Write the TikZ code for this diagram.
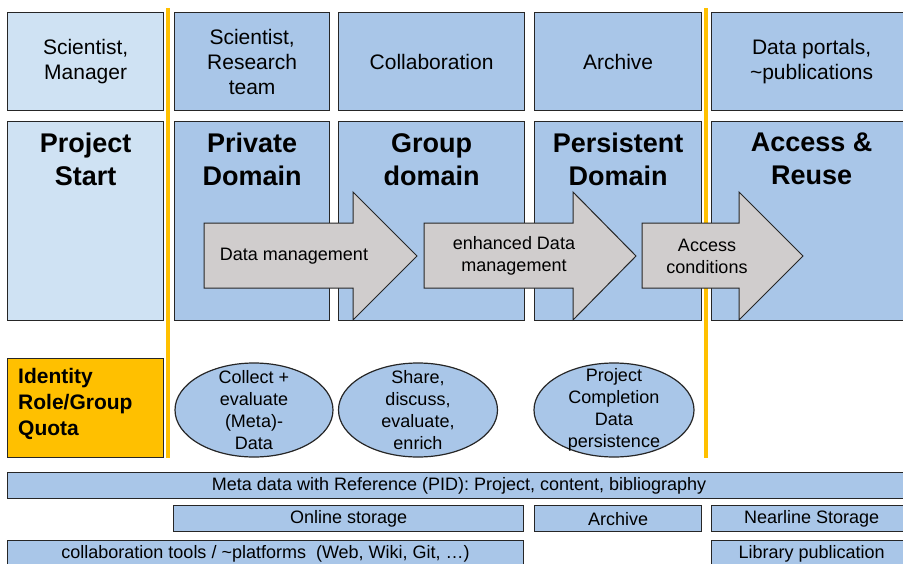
\documentclass[tikz,border=0pt]{standalone}
\usepackage{fontspec}
\setmainfont{Liberation Sans}
\usetikzlibrary{positioning,shapes.geometric}

\definecolor{paleblue}{RGB}{207,226,243}
\definecolor{domblue}{RGB}{169,198,232}
\definecolor{flowgray}{RGB}{208,205,205}
\definecolor{idgold}{RGB}{255,192,0}

% grey block arrow: tail x, neck x, tip x
\newcommand\flowarrow[3]{%
  \draw[flow] (#1,223) -- (#2,223) -- (#2,192) -- (#3,256)
    -- (#2,320) -- (#2,288) -- (#1,288) -- cycle;}

\begin{document}
\begin{tikzpicture}[x=1pt,y=-1pt,
    box/.style={draw=black!85,line width=1.2pt,fill=domblue,inner sep=0pt,
      anchor=north west,align=center},
    role/.style={box,minimum height=98pt,font=\fontsize{21}{25}\selectfont},
    dombox/.style={box,minimum height=199pt},
    domtitle/.style={anchor=north,inner sep=0pt,align=center,
      font=\fontsize{27}{33}\selectfont\bfseries},
    flow/.style={draw=black!85,line width=1pt,fill=flowgray},
    flowtext/.style={align=center,inner sep=0pt,font=\fontsize{18}{22}\selectfont},
    task/.style={ellipse,draw=black!85,line width=1.2pt,fill=domblue,inner sep=0pt,
      minimum height=94pt},
    tasktext/.style={align=center,inner sep=0pt,font=\fontsize{18}{22}\selectfont},
    bar/.style={box,minimum height=26pt,font=\fontsize{18}{22}\selectfont},
    phase/.style={line width=3.5pt,draw=idgold}
  ]
  \useasboundingbox (0,0) rectangle (903,563);

  % who is involved
  \node[role,fill=paleblue,minimum width=156pt] (who1) at (7,12) {Scientist,\\Manager};
  \node[role,minimum width=155pt] (who2) at (174,12) {Scientist,\\Research\\team};
  \node[role,minimum width=186pt] (who3) at (338,12) {Collaboration};
  \node[role,minimum width=167pt] (who4) at (534,12) {Archive};
  \node[role,minimum width=200pt] (who5) at (711,12) {Data portals,\\\textasciitilde publications};

  % domains
  \node[dombox,fill=paleblue,minimum width=156pt] (start) at (7,121) {};
  \node[dombox,minimum width=155pt] (priv) at (174,121) {};
  \node[dombox,minimum width=186pt] (group) at (338,121) {};
  \node[dombox,minimum width=167pt] (pers) at (534,121) {};
  \node[dombox,minimum width=200pt] (reuse) at (711,121) {};
  \node[domtitle] (startt) at ([yshift=-12pt]start.north) {Project\\Start};
  \node[domtitle] (privt) at ([yshift=-12pt]priv.north) {Private\\Domain};
  \node[domtitle] (groupt) at ([yshift=-12pt]group.north) {Group\\domain};
  \node[domtitle] (perst) at ([yshift=-12pt]pers.north) {Persistent\\Domain};
  \node[domtitle] (reuset) at ([yshift=-12pt]reuse.north) {Access \&\\Reuse};

  % phase borders
  \coordinate (p1a) at (168,8);   \coordinate (p1b) at (168,458);
  \coordinate (p2a) at (706,8);   \coordinate (p2b) at (706,458);
  \draw[phase] (p1a) -- (p1b);
  \draw[phase] (p2a) -- (p2b);

  % data flow
  \flowarrow{204}{353}{417}
  \flowarrow{424}{573}{636}
  \flowarrow{642}{739}{803}
  \node[flowtext] (dm) at (294,256) {Data management};
  \node[flowtext] (edm) at (514,256) {enhanced Data\\management};
  \node[flowtext] (acc) at (707,256) {Access\\conditions};

  % identity and activities
  \node[box,fill=idgold,minimum width=156pt,minimum height=99pt] (ident) at (7,358) {};
  \node[anchor=west,align=left,inner sep=0pt,font=\fontsize{21}{26}\selectfont\bfseries]
    (identt) at (18,404) {Identity\\Role/Group\\Quota};
  \node[task,minimum width=158pt] (collect) at (254,410) {};
  \node[task,minimum width=159pt] (share) at (418,410) {};
  \node[task,minimum width=160pt] (compl) at (614,410) {};
  \node[tasktext] (collectt) at (collect) {Collect +\\evaluate\\(Meta)-\\Data};
  \node[tasktext] (sharet) at (share) {Share,\\discuss,\\evaluate,\\enrich};
  \node[tasktext] (complt) at (compl) {Project\\Completion\\Data\\persistence};

  % infrastructure
  \node[bar,minimum width=903pt] (meta) at (7,472) {Meta data with Reference (PID): Project, content, bibliography};
  \node[bar,minimum width=350pt] (online) at (173,505) {Online storage};
  \node[bar,minimum width=167pt] (arch) at (534,505) {Archive};
  \node[bar,minimum width=200pt] (nearl) at (711,505) {Nearline Storage};
  \node[bar,minimum width=516pt] (tools) at (7,540) {collaboration tools / \textasciitilde platforms\ \ (Web, Wiki, Git, \dots)};
  \node[bar,minimum width=200pt] (lib) at (711,540) {Library publication};
\end{tikzpicture}
\end{document}
